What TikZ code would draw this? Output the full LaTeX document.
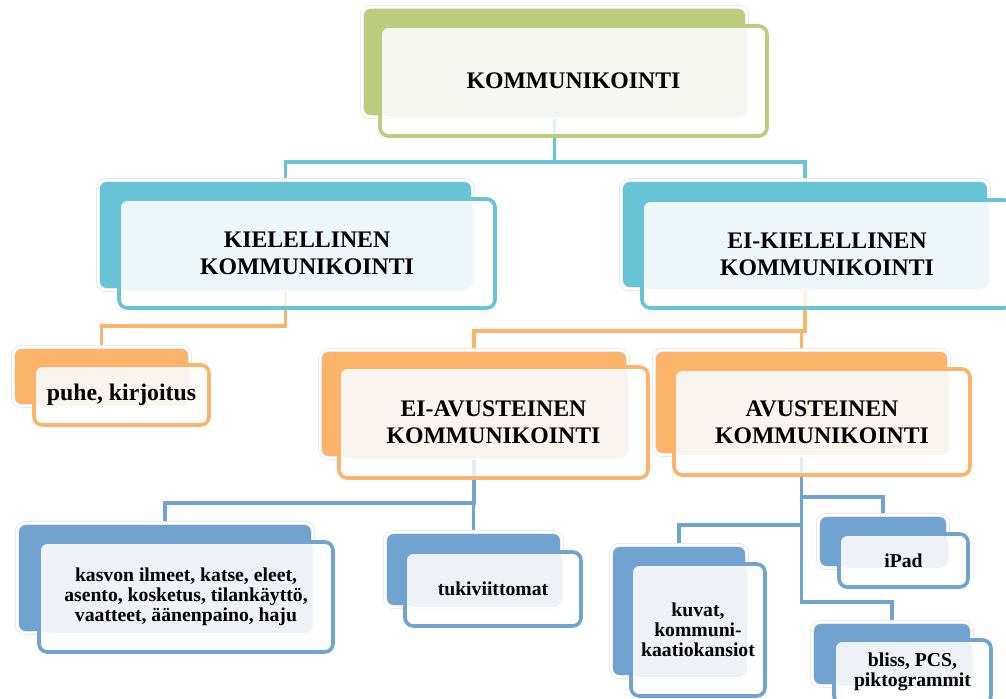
\documentclass[tikz,border=0pt]{standalone}
\usepackage{fontspec}
\setmainfont{Liberation Serif}
\usepackage{xcolor}
\usepackage{tikz}
\usetikzlibrary{positioning, backgrounds}

\definecolor{grn}{RGB}{187,204,126}
\definecolor{grnlt}{RGB}{245,246,240}
\definecolor{cyn}{RGB}{102,196,214}
\definecolor{cynlt}{RGB}{237,246,249}
\definecolor{org}{RGB}{251,180,106}
\definecolor{orglt}{RGB}{249,245,238}
\definecolor{blu}{RGB}{113,163,209}
\definecolor{blult}{RGB}{238,241,246}
\newcommand\px{0.025cm}

\begin{document}
\begin{tikzpicture}[x=0.025cm, y=-0.025cm,
    backbox/.style={rectangle, rounded corners=6pt, inner sep=0pt, outer sep=0pt, fill=#1,
      draw=black!13, line width=0.4pt, double=white, double distance=2pt},
    frontbox/.style 2 args={rectangle, rounded corners=6pt, inner sep=2pt, outer sep=0pt,
      draw=#1, line width=2.6pt, fill=white, fill opacity=.8, text opacity=1, align=center,
      path picture={\fill[#1lt, fill opacity=1, rounded corners=6pt]
        (path picture bounding box.north west) rectangle (#2.south east);}},
    bigtxt/.style={font=\fontsize{16.9}{19.2}\selectfont\bfseries},
    smalltxt/.style={font=\fontsize{14}{14.4}\selectfont\bfseries},
    conn/.style={draw=#1, line width=2.6pt}]
  \useasboundingbox (0,0) rectangle (1006,698);
  \clip (0,0) rectangle (1006,698);

  % top level
  \node[backbox=grn, minimum width=385*\px, minimum height=110*\px] (top-b) at (554.5,62) {};
  \node[frontbox={grn}{top-b}, bigtxt, minimum width=387*\px, minimum height=110*\px] (top) at (573.5,81) {KOMMUNIKOINTI};

  % second level
  \node[backbox=cyn, minimum width=375*\px, minimum height=110*\px] (kiel-b) at (285.5,235) {};
  \node[frontbox={cyn}{kiel-b}, bigtxt, minimum width=376*\px, minimum height=109*\px] (kiel) at (307,253.5) {KIELELLINEN\\KOMMUNIKOINTI};
  \node[backbox=cyn, minimum width=368*\px, minimum height=109*\px] (ekiel-b) at (805,234.5) {};
  \node[frontbox={cyn}{ekiel-b}, bigtxt, minimum width=370*\px, minimum height=108*\px] (ekiel) at (827,254) {EI-KIELELLINEN\\KOMMUNIKOINTI};

  % third level
  \node[backbox=org, minimum width=177*\px, minimum height=59*\px] (puhe-b) at (101.5,376.5) {};
  \node[frontbox={org}{puhe-b}, bigtxt, minimum width=175*\px, minimum height=60*\px] (puhe) at (121.5,395) {puhe, kirjoitus};
  \node[backbox=org, minimum width=308*\px, minimum height=108*\px] (eavust-b) at (474,404) {};
  \node[frontbox={org}{eavust-b}, bigtxt, minimum width=309*\px, minimum height=111*\px] (eavust) at (493.5,422.5) {EI-AVUSTEINEN\\KOMMUNIKOINTI};
  \node[backbox=org, minimum width=295*\px, minimum height=105*\px] (avust-b) at (801.5,402.5) {};
  \node[frontbox={org}{avust-b}, bigtxt, minimum width=296*\px, minimum height=106*\px] (avust) at (822,422) {AVUSTEINEN\\KOMMUNIKOINTI};

  % fourth level
  \node[backbox=blu, minimum width=296*\px, minimum height=110*\px] (kasvon-b) at (165,578) {};
  \node[frontbox={blu}{kasvon-b}, smalltxt, minimum width=294*\px, minimum height=110*\px] (kasvon) at (186,597) {kasvon ilmeet, katse, eleet,\\asento, kosketus, tilankäyttö,\\vaatteet, äänenpaino, haju};
  \node[backbox=blu, minimum width=177*\px, minimum height=75*\px] (tuki-b) at (473.5,569.5) {};
  \node[frontbox={blu}{tuki-b}, smalltxt, minimum width=176*\px, minimum height=74*\px] (tuki) at (493,589) {tukiviittomat};
  \node[backbox=blu, minimum width=136*\px, minimum height=132*\px] (kuvat-b) at (679,611) {};
  \node[frontbox={blu}{kuvat-b}, smalltxt, minimum width=134*\px, minimum height=132*\px] (kuvat) at (698,630) {kuvat,\\kommuni-\\kaatiokansiot};
  \node[backbox=blu, minimum width=130*\px, minimum height=53*\px] (ipad-b) at (883,541.5) {};
  \node[frontbox={blu}{ipad-b}, smalltxt, minimum width=129*\px, minimum height=53*\px] (ipad) at (903.5,560.5) {iPad};
  \node[backbox=blu, minimum width=160*\px, minimum height=64*\px] (bliss-b) at (892,654) {};
  \node[frontbox={blu}{bliss-b}, smalltxt, minimum width=157*\px, minimum height=64*\px] (bliss) at (912.5,672) {bliss, PCS,\\piktogrammit};

  % connectors
  \coordinate (j0) at (top-b.south |- 0,162);
  \coordinate (j1) at (kiel-b.south |- 0,326);
  \coordinate (j2) at (ekiel-b.south |- 0,331);
  \coordinate (j3) at (eavust-b.south |- 0,503);
  \coordinate (j4) at (avust-b.south |- 0,497);
  \coordinate (j5) at (avust-b.south |- 0,525);
  \coordinate (j6) at (avust-b.south |- 0,602);
  \begin{scope}[on background layer]
    \draw[conn=cyn] (top-b.south) -- (j0) -| (kiel-b.north);
    \draw[conn=cyn] (j0) -| (ekiel-b.north);
    \draw[conn=org] (kiel-b.south) -- (j1) -| (puhe-b.north);
    \draw[conn=org] (ekiel-b.south) -- (j2) -| (eavust-b.north);
    \draw[conn=org] (j2) -| (avust-b.north);
    \draw[conn=blu] (eavust-b.south) -- (j3) -| (kasvon-b.north);
    \draw[conn=blu] (j3) -| (tuki-b.north);
    \draw[conn=blu] (avust-b.south) -- (j6) -| (bliss-b.north);
    \draw[conn=blu] (j4) -| (ipad-b.north);
    \draw[conn=blu] (j5) -| (kuvat-b.north);
  \end{scope}
\end{tikzpicture}
\end{document}
